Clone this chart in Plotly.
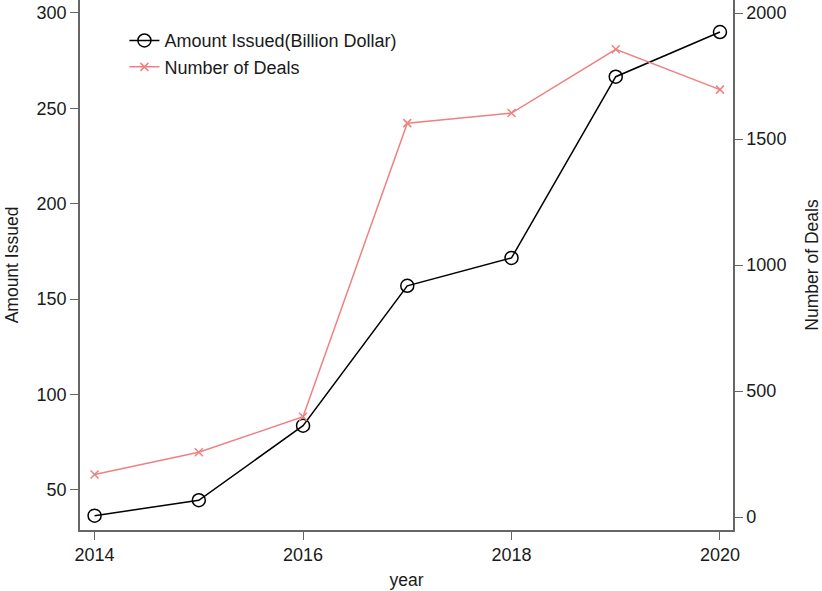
import plotly.graph_objects as go

years = [2014, 2015, 2016, 2017, 2018, 2019, 2020]
amount_issued = [36.5, 44.6, 83.7, 157.0, 171.6, 266.6, 290.0]
number_of_deals = [169, 257, 398, 1563, 1603, 1856, 1696]

font = dict(family="Liberation Sans, Arial, sans-serif", size=18, color="#1a1a1a")
axis_color = "#666"

fig = go.Figure()
fig.add_trace(go.Scatter(
    x=years, y=amount_issued, name="Amount Issued(Billion Dollar)",
    mode="lines+markers",
    line=dict(color="black", width=1.5),
    marker=dict(symbol="circle-open", size=13, color="black", line=dict(width=1.5)),
))
fig.add_trace(go.Scatter(
    x=years, y=number_of_deals, name="Number of Deals", yaxis="y2",
    mode="lines+markers",
    line=dict(color="#f08080", width=1.5),
    marker=dict(symbol="x-thin-open", size=8, color="#f08080", line=dict(width=1.5, color="#f08080")),
))

tickfont = dict(family="Liberation Sans, Arial, sans-serif", size=18, color="#1a1a1a")

fig.update_layout(
    width=822, height=591,
    margin=dict(l=80, r=89, t=0, b=61),
    paper_bgcolor="white", plot_bgcolor="white",
    font=font,
    showlegend=True,
    legend=dict(x=0.068, y=0.958, xanchor="left", yanchor="top",
                bgcolor="rgba(0,0,0,0)", font=dict(size=18), tracegroupgap=0),
    xaxis=dict(
        range=[2013.86, 2020.125], tickvals=[2014, 2016, 2018, 2020],
        showline=True, linecolor=axis_color, linewidth=1.5,
        ticks="outside", ticklen=8, tickcolor=axis_color, tickfont=tickfont,
        showgrid=False, zeroline=False,
        title=dict(text="year", standoff=9, font=dict(size=17.5)),
    ),
    yaxis=dict(
        range=[29.0, 306.8], tickvals=[50, 100, 150, 200, 250, 300],
        showline=True, linecolor=axis_color, linewidth=1.5,
        ticks="outside", ticklen=8, tickcolor=axis_color, tickfont=tickfont,
        showgrid=False, zeroline=False,
        title=dict(text="Amount Issued", standoff=13, font=dict(size=17.5)),
    ),
    yaxis2=dict(
        overlaying="y", side="right",
        range=[-51.6, 2051.6], tickvals=[0, 500, 1000, 1500, 2000],
        showline=True, linecolor=axis_color, linewidth=1.5,
        ticks="outside", ticklen=8, tickcolor=axis_color, tickfont=tickfont,
        showgrid=False, zeroline=False,
        title=dict(text="Number of Deals", standoff=22, font=dict(size=17.5)),
    ),
)

fig.write_html("out.html")
